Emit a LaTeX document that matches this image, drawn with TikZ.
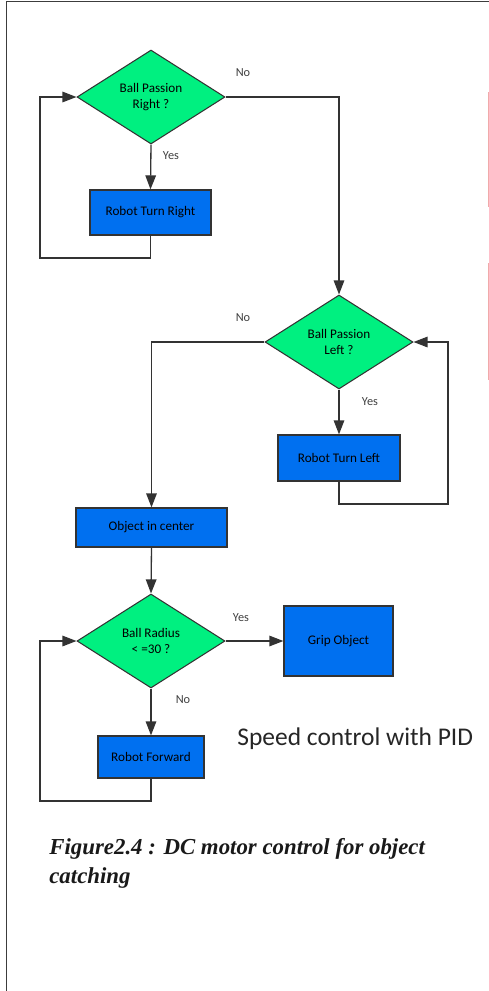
\documentclass[tikz,border=0pt]{standalone}
\usepackage{fontspec}
\setmainfont{Carlito}
\newfontfamily\capfont{Liberation Serif}
\usepackage{xcolor}
\usetikzlibrary{shapes.geometric,arrows.meta,positioning}

\definecolor{decgreen}{RGB}{0,240,128}
\definecolor{actblue}{RGB}{0,112,240}
\definecolor{framegray}{RGB}{60,60,60}
\definecolor{marginred}{RGB}{240,170,170}

\tikzset{
    decision/.style={diamond, draw=black!80, line width=0.6pt, fill=decgreen,
        minimum width=2.96cm, minimum height=1.88cm, inner sep=0pt,
        align=center, text=black, font=\fontsize{7.5}{9.5}\selectfont},
    action/.style={rectangle, draw=black!80, line width=0.7pt, fill=actblue,
        inner sep=0pt, align=center, text=black, font=\fontsize{7.5}{9}\selectfont},
    flow/.style={draw=black!80, line width=0.75pt, -{Triangle[length=8pt,width=6pt]}},
    answer/.style={text=black!75, inner sep=0pt, font=\fontsize{7}{8}\selectfont}
}

\begin{document}
\begin{tikzpicture}[x=0.02cm,y=-0.02cm,auto]
    \useasboundingbox (0,0) rectangle (489,991);
    % page frame and margin marks
    \draw[framegray, line width=1.1pt] (6.5,991) -- (6.5,1.5) -- (489,1.5);
    \draw[marginred, line width=0.5pt] (488,92) -- (488,207);
    \draw[marginred, line width=0.5pt] (488,263) -- (488,380);

    % blocks
    \node[decision] (right) at (151,97) {Ball Passion\\Right ?};
    \node[action, minimum width=2.42cm, minimum height=0.9cm] (turnr) at (150.5,212.5) {Robot Turn Right};
    \node[decision] (left) at (339,342) {Ball Passion\\Left ?};
    \node[action, minimum width=2.44cm, minimum height=0.92cm] (turnl) at (339,458) {Robot Turn Left};
    \node[action, minimum width=3.02cm, minimum height=0.78cm] (center) at (151.5,527.5) {Object in center};
    \node[decision] (radius) at (151,641) {Ball Radius\\< =30 ?};
    \node[action, minimum width=2.18cm, minimum height=1.4cm] (grip) at (338.5,641) {Grip Object};
    \node[action, minimum width=2.12cm, minimum height=0.84cm] (fwd) at (151,757) {Robot Forward};

    % turning points of the loops
    \coordinate (backr) at (40,258);
    \coordinate (backl) at (448,504);
    \coordinate (backf) at (40,801);

    % connectors
    \draw[flow] (right.south) -- (turnr.north);
    \draw[flow] (turnr.south) |- (backr) |- (right.west);
    \draw[flow] (right.east) -| (left.north);
    \draw[flow] (left.south) -- (turnl.north);
    \draw[flow] (turnl.south) |- (backl) |- (left.east);
    \draw[flow] (left.west) -| (center.north);
    \draw[flow] (center.south) -- (radius.north);
    \draw[flow] (radius.east) -- (grip.west);
    \draw[flow] (radius.south) -- (fwd.north);
    \draw[flow] (fwd.south) |- (backf) |- (radius.west);

    % answers
    \node[answer] (no1)  at (243,73)  {No};
    \node[answer] (yes1) at (171,156) {Yes};
    \node[answer] (no2)  at (243,318) {No};
    \node[answer] (yes2) at (370,402) {Yes};
    \node[answer] (yes3) at (241,618) {Yes};
    \node[answer] (no3)  at (183,700) {No};

    % notes
    \node[anchor=base west, inner sep=0pt, text=black!85, font=\fontsize{14.5}{17}\selectfont] (pid) at (237,745) {Speed control with PID};
    \node[anchor=north west, inner sep=0pt, align=left, text=black!90,
        font=\capfont\bfseries\itshape\fontsize{13}{16.4}\selectfont] (caption) at (49,838)
        {Figure2.4 : DC motor control for object\\catching};
\end{tikzpicture}
\end{document}
